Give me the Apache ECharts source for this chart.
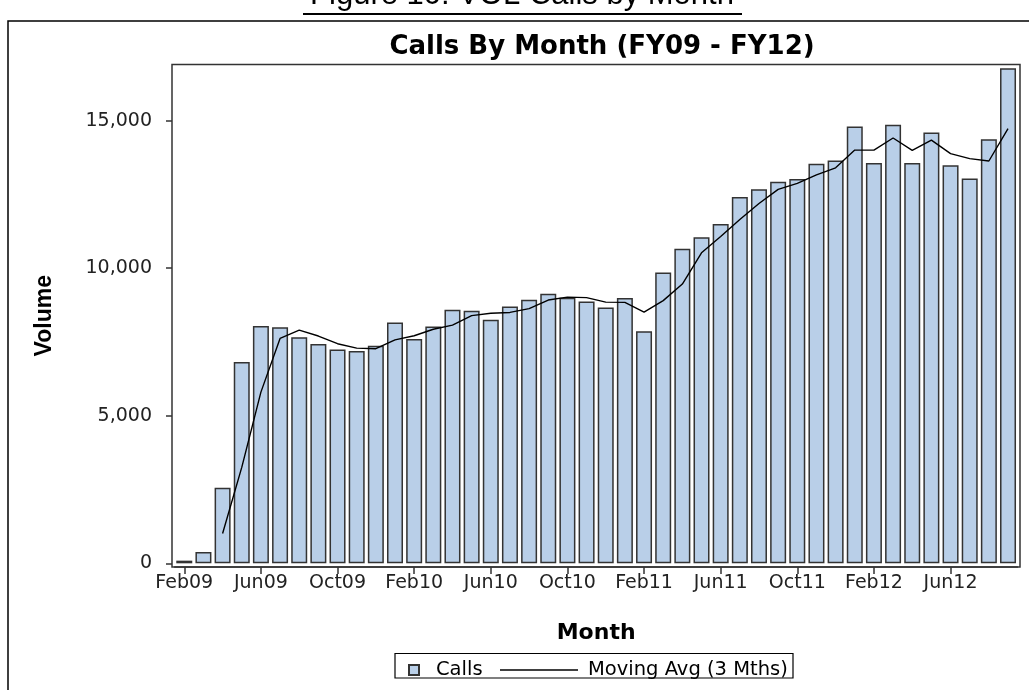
<!DOCTYPE html>
<html>
<head>
<meta charset="utf-8">
<script src="https://cdn.jsdelivr.net/npm/echarts@6/dist/echarts.min.js"></script>
<style>
  html, body { margin: 0; padding: 0; background: #fff; }
  #chart { width: 1029px; height: 690px; }
</style>
</head>
<body>
<div id="chart"></div>
<script>
var months = ['Feb09', 'Mar09', 'Apr09', 'May09', 'Jun09', 'Jul09', 'Aug09', 'Sep09', 'Oct09', 'Nov09', 'Dec09',
    'Jan10', 'Feb10', 'Mar10', 'Apr10', 'May10', 'Jun10', 'Jul10', 'Aug10', 'Sep10', 'Oct10', 'Nov10', 'Dec10',
    'Jan11', 'Feb11', 'Mar11', 'Apr11', 'May11', 'Jun11', 'Jul11', 'Aug11', 'Sep11', 'Oct11', 'Nov11', 'Dec11',
    'Jan12', 'Feb12', 'Mar12', 'Apr12', 'May12', 'Jun12', 'Jul12', 'Aug12', 'Sep12'];

var calls = [90, 380, 2560, 6820, 8040, 8000, 7660, 7430, 7240, 7190, 7370,
    8160, 7600, 8020, 8590, 8560, 8250, 8700, 8930, 9130, 9000, 8870, 8670,
    8990, 7860, 9850, 10660, 11050, 11500, 12410, 12670, 12930, 13020, 13540, 13650,
    14800, 13560, 14860, 13560, 14600, 13490, 13040, 14370, 16770];

// 3 month moving average (starts at Apr09)
var movingAvg = ['-', '-', 1010, 3250, 5800, 7620, 7900, 7700, 7440, 7290, 7270,
    7570, 7710, 7930, 8070, 8390, 8470, 8500, 8630, 8920, 9020, 9000, 8850,
    8840, 8510, 8900, 9460, 10520, 11070, 11650, 12190, 12670, 12870, 13160, 13400,
    14000, 14000, 14410, 13990, 14340, 13880, 13710, 13630, 14730];

var yTicks = [0, 5000, 10000, 15000];

var barColor = '#b9cfe8';
var edgeColor = '#333';
var font = 'DejaVu Sans';

var chart = echarts.init(document.getElementById('chart'));

var option = {
    animation: false,
    backgroundColor: '#fff',
    title: {
        text: 'Calls By Month (FY09 - FY12)',
        left: 597,
        top: 29,
        textAlign: 'center',
        textStyle: { fontFamily: font, fontWeight: 'bold', fontSize: 26, color: '#000' }
    },
    legend: [{
        left: 403,
        top: 655,
        itemWidth: 10,
        itemHeight: 10,
        data: [{ name: 'Calls', icon: 'rect' }],
        textStyle: { fontFamily: font, fontSize: 19.5, color: '#000', padding: [0, 0, 0, 12] }
    }, {
        left: 495,
        top: 655,
        itemWidth: 78,
        itemHeight: 1.5,
        data: [{ name: 'Moving Avg (3 Mths)', icon: 'rect', itemStyle: { color: '#000' } }],
        textStyle: { fontFamily: font, fontSize: 19.5, color: '#000', padding: [0, 0, 0, 5] }
    }],
    grid: {
        left: 174.7,
        right: 11.4,
        top: 64.5,
        bottom: 123
    },
    xAxis: {
        type: 'category',
        data: months,
        boundaryGap: true,
        name: 'Month',
        nameLocation: 'middle',
        nameGap: 55,
        nameTextStyle: { fontFamily: font, fontWeight: 'bold', fontSize: 22, color: '#000' },
        axisLine: { show: true, onZero: false, lineStyle: { color: edgeColor, width: 1.5 } },
        axisTick: {
            show: true,
            alignWithLabel: true,
            interval: 3,
            length: 7,
            lineStyle: { color: edgeColor, width: 1.5 }
        },
        axisLabel: {
            interval: 3,
            margin: 7,
            fontFamily: font,
            fontSize: 19,
            color: '#222'
        },
        splitLine: { show: false }
    },
    yAxis: {
        type: 'value',
        min: -125,
        max: 16900,
        offset: 2.7,
        name: 'Volume',
        nameLocation: 'middle',
        nameRotate: 90,
        nameGap: 116,
        nameTextStyle: { fontFamily: 'Liberation Sans', fontWeight: 'bold', fontSize: 23, color: '#000' },
        axisLine: { show: false },
        axisTick: {
            show: true,
            length: 6,
            customValues: yTicks,
            lineStyle: { color: edgeColor, width: 1.5 }
        },
        axisLabel: {
            customValues: yTicks,
            margin: 20,
            fontFamily: font,
            fontSize: 19,
            color: '#222',
            formatter: function (v) { return v.toLocaleString('en-US'); }
        },
        splitLine: { show: false }
    },
    series: [{
        name: 'Calls',
        type: 'bar',
        data: calls,
        barWidth: 16,
        itemStyle: { color: barColor, borderColor: edgeColor, borderWidth: 1.5 }
    }, {
        name: 'Moving Avg (3 Mths)',
        type: 'line',
        data: movingAvg,
        showSymbol: false,
        symbol: 'none',
        lineStyle: { color: '#000', width: 1.4 },
        itemStyle: { color: '#000' },
        z: 3
    }],
    graphic: [{
        // outer page frame
        type: 'rect',
        shape: { x: 8, y: 21, width: 1100, height: 1000 },
        style: { fill: 'none', stroke: '#000', lineWidth: 1.5 },
        silent: true
    }, {
        // plot frame
        type: 'rect',
        shape: { x: 172, y: 64.5, width: 848, height: 502.5 },
        style: { fill: 'none', stroke: edgeColor, lineWidth: 1.5 },
        z: 10,
        silent: true
    }, {
        // legend box
        type: 'rect',
        shape: { x: 395, y: 653.5, width: 398, height: 24.5 },
        style: { fill: 'none', stroke: '#000', lineWidth: 1.2 },
        silent: true
    }, {
        // figure caption, cut off at the top edge
        type: 'text',
        x: 522,
        y: 11,
        style: {
            text: 'Figure 10: VOL Calls by Month',
            font: '31px "Liberation Sans"',
            fill: '#000',
            textAlign: 'center',
            textVerticalAlign: 'bottom'
        },
        silent: true
    }, {
        type: 'line',
        shape: { x1: 303, y1: 14, x2: 742, y2: 14 },
        style: { stroke: '#000', lineWidth: 2 },
        silent: true
    }]
};

chart.setOption(option);
</script>
</body>
</html>
